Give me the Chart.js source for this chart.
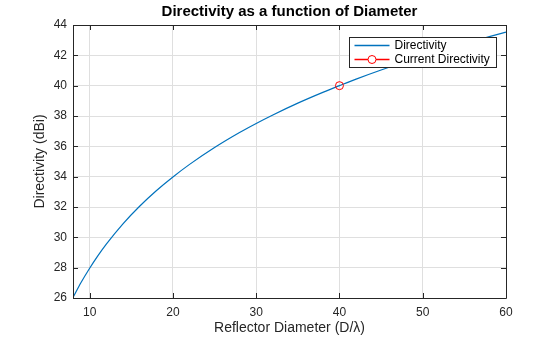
<!DOCTYPE html>
<html>
<head>
<meta charset="utf-8">
<script src="https://cdn.jsdelivr.net/npm/chart.js@4.4.1/dist/chart.umd.min.js"></script>
<style>
  html, body { margin: 0; padding: 0; background: #fff; }
  #wrap { width: 560px; height: 337px; }
</style>
</head>
<body>
<div id="wrap"><canvas id="chartDirectivity" width="560" height="337"></canvas></div>
<script>
// diametre du reflecteur (D/lambda) et directivite (dBi)
const diametres = [8, 9, 10, 11, 12, 14, 16, 18, 20, 22, 25, 28, 30, 32, 35, 38, 40, 42, 45, 48, 50, 52, 55, 58, 60];
const directivites = [26.03, 27.05, 27.96, 28.79, 29.55, 30.89, 32.05, 33.07, 33.98, 34.81, 35.92, 36.91, 37.51, 38.07, 38.85, 39.56, 40.00, 40.43, 41.03, 41.59, 41.94, 42.28, 42.77, 43.23, 43.53];
const diametreActuel = [40];
const directiviteActuelle = [40.00];
const ticksX = [10, 20, 30, 40, 50, 60];
const ticksY = [26, 28, 30, 32, 34, 36, 38, 40, 42, 44];

const couleurTexte = '#262626';
const bleu = '#0072BD';
const rouge = '#FF0000';
const police = '"Liberation Sans", Arial, Helvetica, sans-serif';

// cadre, graduations internes, titres et legende facon MATLAB
const cadreMatlab = {
    id: 'cadreMatlab',
    afterDraw(chart) {
        const ctx = chart.ctx;
        const a = chart.chartArea;
        const sx = chart.scales.x, sy = chart.scales.y;
        ctx.save();
        ctx.strokeStyle = couleurTexte;
        ctx.lineWidth = 1;
        ctx.beginPath();
        ctx.rect(Math.round(a.left) + 0.5, Math.round(a.top) + 0.5,
                 Math.round(a.right - a.left), Math.round(a.bottom - a.top));
        ctx.stroke();

        const lg = 5;
        ctx.beginPath();
        ticksX.forEach(v => {
            const x = Math.round(sx.getPixelForValue(v)) + 0.5;
            ctx.moveTo(x, a.bottom); ctx.lineTo(x, a.bottom - lg);
            ctx.moveTo(x, a.top); ctx.lineTo(x, a.top + lg);
        });
        ticksY.forEach(v => {
            const y = Math.round(sy.getPixelForValue(v)) + 0.5;
            ctx.moveTo(a.left, y); ctx.lineTo(a.left + lg, y);
            ctx.moveTo(a.right, y); ctx.lineTo(a.right - lg, y);
        });
        ctx.stroke();

        // titres
        ctx.fillStyle = '#000';
        ctx.textAlign = 'center';
        ctx.textBaseline = 'middle';
        ctx.font = 'bold 15px ' + police;
        ctx.fillText('Directivity as a function of Diameter', (a.left + a.right) / 2, 12);
        ctx.fillStyle = couleurTexte;
        ctx.font = '14px ' + police;
        ctx.fillText('Reflector Diameter (D/\u03bb)', (a.left + a.right) / 2, 328);
        ctx.save();
        ctx.translate(40, (a.top + a.bottom) / 2);
        ctx.rotate(-Math.PI / 2);
        ctx.fillText('Directivity (dBi)', 0, 0);
        ctx.restore();

        // legende
        const lx = 349.5, ly = 37.5, lw = 147, lh = 30;
        ctx.fillStyle = '#fff';
        ctx.fillRect(lx, ly, lw, lh);
        ctx.strokeStyle = couleurTexte;
        ctx.strokeRect(lx, ly, lw, lh);
        ctx.font = '12px ' + police;
        ctx.textAlign = 'left';
        const y1 = ly + 8, y2 = ly + 22;
        ctx.lineWidth = 1.3;
        ctx.beginPath();
        ctx.strokeStyle = bleu;
        ctx.moveTo(lx + 5, y1); ctx.lineTo(lx + 40, y1);
        ctx.stroke();
        ctx.beginPath();
        ctx.strokeStyle = rouge;
        ctx.moveTo(lx + 5, y2); ctx.lineTo(lx + 40, y2);
        ctx.stroke();
        ctx.lineWidth = 1;
        ctx.beginPath();
        ctx.arc(lx + 22.5, y2, 4, 0, Math.PI * 2);
        ctx.fillStyle = '#fff';
        ctx.fill();
        ctx.stroke();
        ctx.fillStyle = '#000';
        ctx.fillText('Directivity', lx + 45, y1);
        ctx.fillText('Current Directivity', lx + 45, y2);
        ctx.restore();
    }
};

function afficherDirectivite() {
    const canvas = document.getElementById('chartDirectivity');
    if (!canvas) {
        console.error("Canvas #chartDirectivity introuvable !");
        return;
    }
    const ctx = canvas.getContext('2d');

    new Chart(ctx, {
        type: 'scatter',
        data: {
            datasets: [{
                label: 'Current Directivity',
                data: diametreActuel.map((d, i) => ({ x: d, y: directiviteActuelle[i] })),
                showLine: false,
                pointStyle: 'circle',
                pointRadius: 4,
                pointBorderWidth: 1,
                pointBorderColor: rouge,
                pointBackgroundColor: 'rgba(0,0,0,0)'
            }, {
                label: 'Directivity',
                data: diametres.map((d, i) => ({ x: d, y: directivites[i] })),
                showLine: true,
                borderColor: bleu,
                borderWidth: 1.2,
                pointRadius: 0,
                cubicInterpolationMode: 'monotone'
            }]
        },
        options: {
            responsive: false,
            animation: false,
            layout: { padding: { left: 0, top: 25, right: 54, bottom: 0 } },
            plugins: {
                legend: { display: false },
                title: { display: false },
                tooltip: { enabled: false }
            },
            scales: {
                x: {
                    type: 'linear',
                    min: 8,
                    max: 60,
                    afterBuildTicks: s => { s.ticks = ticksX.map(v => ({ value: v })); },
                    afterFit: s => { s.height = 39; },
                    grid: { color: '#dfdfdf', drawTicks: false },
                    border: { display: false },
                    ticks: { color: couleurTexte, font: { family: police, size: 12 }, padding: 7 }
                },
                y: {
                    type: 'linear',
                    min: 26,
                    max: 44,
                    afterBuildTicks: s => { s.ticks = ticksY.map(v => ({ value: v })); },
                    afterFit: s => { s.width = 73; },
                    grid: { color: '#dfdfdf', drawTicks: false },
                    border: { display: false },
                    ticks: { color: couleurTexte, font: { family: police, size: 12 }, padding: 6 }
                }
            }
        },
        plugins: [cadreMatlab]
    });
}

afficherDirectivite();
</script>
</body>
</html>
